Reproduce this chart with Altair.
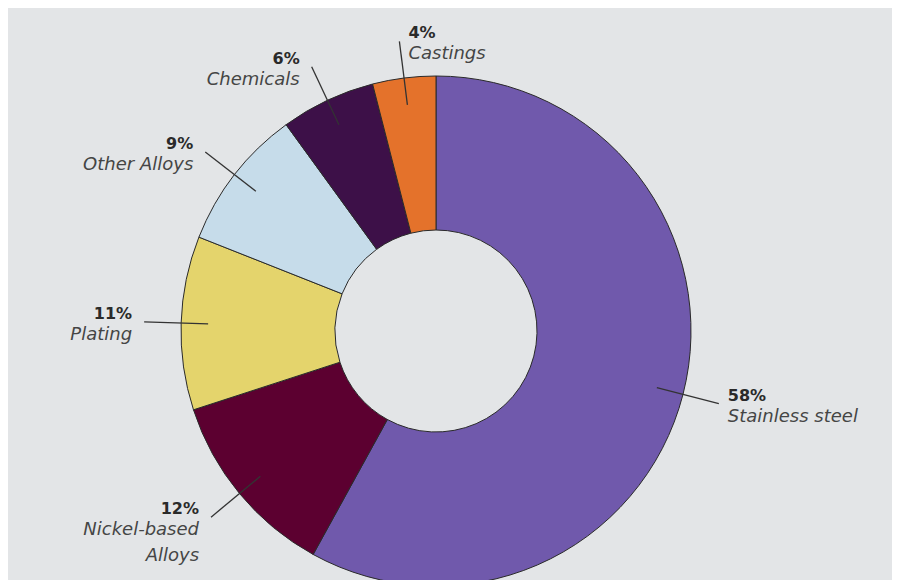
import altair as alt
import pandas as pd

categories = ["Stainless steel", "Nickel-based Alloys", "Plating", "Other Alloys", "Chemicals", "Castings"]
values = [58, 12, 11, 9, 6, 4]
pct_labels = ["58%", "12%", "11%", "9%", "6%", "4%"]
name_labels = ["Stainless steel", "Nickel-based\nAlloys", "Plating", "Other Alloys", "Chemicals", "Castings"]
colors = ["#7059ac", "#5c0030", "#e4d46c", "#c6dcea", "#3d1048", "#e4722b"]

df = pd.DataFrame({
    "category": categories,
    "value": values,
    "idx": list(range(len(categories))),
    "pct": pct_labels,
    "name": name_labels,
})

CX, CY = 428, 323
R_OUT, R_IN = 255, 101
L1, L2 = 228, 292

base = alt.Chart(df).transform_joinaggregate(
    total="sum(value)"
).transform_window(
    cum="sum(value)", sort=[alt.SortField("idx")], frame=[None, 0]
).transform_calculate(
    mid="(datum.cum - datum.value/2)/datum.total*2*PI"
).transform_calculate(
    x1=f"{CX} + {L1}*sin(datum.mid)",
    y1=f"{CY} - {L1}*cos(datum.mid)",
    x2=f"{CX} + {L2}*sin(datum.mid)",
    y2=f"{CY} - {L2}*cos(datum.mid)",
    side="sin(datum.mid) > -0.2 ? 'right' : 'left'",
).transform_calculate(
    tx="datum.side == 'right' ? datum.x2 + 9 : datum.x2 - 12",
    ty1="datum.y2 - 3",
    ty2="datum.y2 + 4",
)

arcs = alt.Chart(df).mark_arc(
    radius=R_OUT, radius2=R_IN, stroke="#2a2a2a", strokeWidth=1
).encode(
    theta=alt.Theta("value:Q", stack=True),
    order=alt.Order("idx:Q"),
    color=alt.Color("category:N", scale=alt.Scale(domain=categories, range=colors), legend=None),
    x=alt.value(CX),
    y=alt.value(CY),
)

leaders = base.mark_rule(color="#333333", strokeWidth=1.3).encode(
    x=alt.X("x1:Q", scale=None, axis=None),
    y=alt.Y("y1:Q", scale=None, axis=None),
    x2="x2:Q",
    y2="y2:Q",
)

def labels(side, align):
    b = base.transform_filter(f"datum.side == '{side}'")
    pct = b.mark_text(
        align=align, baseline="alphabetic", font="DejaVu Sans", fontSize=16,
        fontWeight="bold", color="#2a2a2a"
    ).encode(
        x=alt.X("tx:Q", scale=None, axis=None),
        y=alt.Y("ty1:Q", scale=None, axis=None),
        text="pct:N",
    )
    nm = b.mark_text(
        align=align, baseline="top", font="DejaVu Sans", fontSize=18,
        fontStyle="italic", color="#454545", lineBreak="\n", lineHeight=26
    ).encode(
        x=alt.X("tx:Q", scale=None, axis=None),
        y=alt.Y("ty2:Q", scale=None, axis=None),
        text="name:N",
    )
    return pct + nm

chart = alt.layer(
    arcs, leaders, labels("right", "left"), labels("left", "right")
).properties(
    width=884, height=572,
    autosize=alt.AutoSizeParams(type="none"),
    padding=0,
    background="#e3e5e7",
).configure_view(stroke=None)

chart.save("out.html", embed_options={"renderer": "svg", "actions": False})
